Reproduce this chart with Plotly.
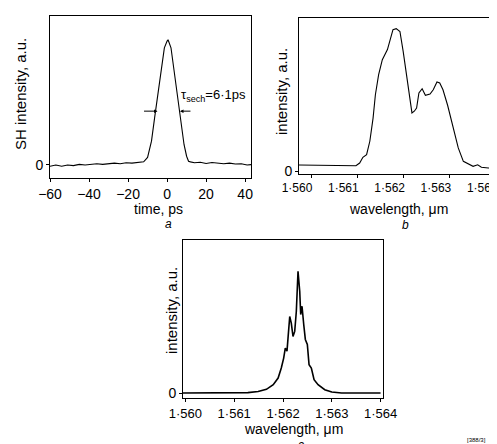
import plotly.graph_objects as go

W, H = 497, 444

# ---- panel a: autocorrelation trace ----
time_ps = [-60, -57, -54, -51, -48, -45, -42, -39, -36, -33, -30, -27, -24, -21, -18, -15, -12, -10, -8,
           -6.4, -4.7, -3, -1.4, 0, 0.5, 2, 3.7, 5.4, 7.1, 8.7, 10, 11, 12, 14, 17, 20, 23, 26, 29, 32,
           35, 38, 41, 43]
sh_intensity = [-0.01, 0.0, -0.01, 0.0, -0.005, 0.005, 0.0, 0.005, 0.01, 0.005, 0.012, 0.015, 0.01,
                0.018, 0.015, 0.02, 0.025, 0.06, 0.19, 0.376, 0.562, 0.776, 0.936, 0.99, 1.0, 0.936,
                0.75, 0.536, 0.35, 0.162, 0.07, 0.03, 0.025, 0.018, 0.022, 0.012, 0.02, 0.014, 0.01,
                0.015, 0.008, 0.01, 0.0, 0.003]

# ---- panel b: spectrum ----
wl_b = [1.55974, 1.56015, 1.56058, 1.56097, 1.56105, 1.56112, 1.56120, 1.56127, 1.56134, 1.56139,
        1.56146, 1.56154, 1.56165, 1.56170, 1.56177, 1.56184, 1.56192, 1.56199, 1.56206, 1.56213,
        1.56218, 1.56223, 1.56228, 1.56233, 1.56240, 1.56247, 1.56257, 1.56264, 1.56272, 1.56278,
        1.56285, 1.56295, 1.56307, 1.56318, 1.56329, 1.56340, 1.56350, 1.56360, 1.56368, 1.56383,
        1.56404]
int_b = [0.042, 0.040, 0.037, 0.037, 0.056, 0.096, 0.115, 0.209, 0.372, 0.536,
         0.677, 0.782, 0.853, 0.911, 0.993, 1.0, 0.98, 0.841, 0.677, 0.513,
         0.408, 0.42, 0.443, 0.548, 0.578, 0.532, 0.541, 0.571, 0.625, 0.618,
         0.571, 0.462, 0.302, 0.162, 0.068, 0.049, 0.033, 0.044, 0.026, 0.021,
         0.016]

# ---- panel c: spectrum ----
wl_c = [1.55995, 1.5605, 1.5610, 1.56128, 1.56149, 1.56166, 1.56180, 1.56190, 1.561965, 1.562014,
        1.562047, 1.562082, 1.562103, 1.562138, 1.562170, 1.562205, 1.562240, 1.562273, 1.562308,
        1.562343, 1.562363, 1.562390, 1.562425, 1.562458, 1.562499, 1.562534, 1.562581, 1.562637,
        1.562719, 1.562856, 1.56300, 1.56320, 1.5635, 1.5640]
int_c = [0.0, 0.0, 0.0, 0.003, 0.012, 0.03, 0.068, 0.123, 0.205, 0.287,
         0.369, 0.344, 0.451, 0.629, 0.574, 0.465, 0.506, 0.670, 1.0,
         0.836, 0.645, 0.713, 0.563, 0.440, 0.399, 0.232, 0.205, 0.109,
         0.068, 0.027, 0.008, 0.0, 0.0, 0.0]

time_ticks = [-60, -40, -20, 0, 20, 40]
wl_ticks = [1.560, 1.561, 1.562, 1.563, 1.564]
wl_ticktext = ["1·560", "1·561", "1·562", "1·563", "1·564"]

FONT = "Liberation Sans, Arial, sans-serif"


def px_x(p):
    return p / W


def px_y(p):
    return 1 - p / H


fig = go.Figure()
fig.add_trace(go.Scatter(x=time_ps, y=sh_intensity, mode="lines",
                         line=dict(color="black", width=1.1), xaxis="x", yaxis="y"))
fig.add_trace(go.Scatter(x=wl_b, y=int_b, mode="lines",
                         line=dict(color="black", width=1.1), xaxis="x2", yaxis="y2"))
fig.add_trace(go.Scatter(x=wl_c, y=int_c, mode="lines",
                         line=dict(color="black", width=1.6), xaxis="x3", yaxis="y3"))

axis_common = dict(showline=True, linecolor="black", linewidth=1, mirror=True,
                   showgrid=False, zeroline=False, ticks="outside", ticklen=3,
                   automargin=False, ticklabeloverflow="allow",
                   tickcolor="black", tickfont=dict(size=14, color="black", family=FONT))

wl_axis = dict(axis_common, tickfont=dict(size=13, color="black", family=FONT))
wl_axis_b = dict(axis_common, tickfont=dict(size=12, color="black", family=FONT))

fig.update_layout(
    template="none",
    width=W, height=H, margin=dict(l=0, r=0, t=0, b=0, pad=0, autoexpand=False),
    paper_bgcolor="white", plot_bgcolor="white", showlegend=False,
    font=dict(family=FONT, color="black"),
    xaxis=dict(domain=[px_x(42), px_x(243)], range=[-60, 43], anchor="y",
               tickvals=time_ticks, **axis_common),
    yaxis=dict(domain=[px_y(170), px_y(8)], range=[-0.104, 1.19], anchor="x",
               tickvals=[0], ticktext=["0"], **axis_common),
    xaxis2=dict(domain=[px_x(291), px_x(491)], range=[1.55974, 1.56406], anchor="y2",
                tickvals=wl_ticks, ticktext=wl_ticktext, ticklabelshift=-14, **wl_axis_b),
    yaxis2=dict(domain=[px_y(166), px_y(10)], range=[-0.021, 1.075], anchor="x2",
                tickvals=[0], ticktext=["0"], **axis_common),
    xaxis3=dict(domain=[px_x(175), px_x(375)], range=[1.55995, 1.56405], anchor="y3",
                tickvals=wl_ticks, ticktext=wl_ticktext, **wl_axis),
    yaxis3=dict(domain=[px_y(390), px_y(232)], range=[-0.041, 1.257], anchor="x3",
                tickvals=[0], ticktext=["0"], **axis_common),
)

anns = []


def label(text, x, y, size=15, angle=0, italic=False):
    if italic:
        text = "<i>" + text + "</i>"
    anns.append(dict(text=text, x=px_x(x), y=px_y(y), xref="paper", yref="paper",
                     showarrow=False, textangle=angle, xanchor="center", yanchor="middle",
                     font=dict(size=size, color="black", family=FONT)))


label("SH intensity, a.u.", 12, 86, angle=-90)
label("time, ps", 150, 201, size=14)
label("a", 160, 216, size=12, italic=True)
label("intensity, a.u.", 273, 84, angle=-90)
label("wavelength, μm", 390, 201, size=14)
label("b", 397, 217, size=12, italic=True)
label("intensity, a.u.", 163, 303, angle=-90)
label("wavelength, μm", 285, 421, size=14)
label("c", 293, 437, size=12, italic=True)
label("[388/3]", 468, 432, size=6)

# pulse width annotation on panel a
anns.append(dict(text="τ<sub>sech</sub>=6·1ps", x=px_x(171), y=px_y(88), xref="paper", yref="paper",
                 showarrow=False, xanchor="left", yanchor="middle",
                 font=dict(size=13, color="black", family=FONT)))
anns.append(dict(text="", x=-4.9, y=0.43, xref="x", yref="y", showarrow=True,
                 ax=-15, ay=0, arrowhead=2, arrowsize=0.7, arrowwidth=1, arrowcolor="black"))
anns.append(dict(text="", x=6.6, y=0.43, xref="x", yref="y", showarrow=True,
                 ax=12, ay=0, arrowhead=2, arrowsize=0.7, arrowwidth=1, arrowcolor="black"))

fig.update_layout(annotations=anns)
fig.write_html("out.html")
